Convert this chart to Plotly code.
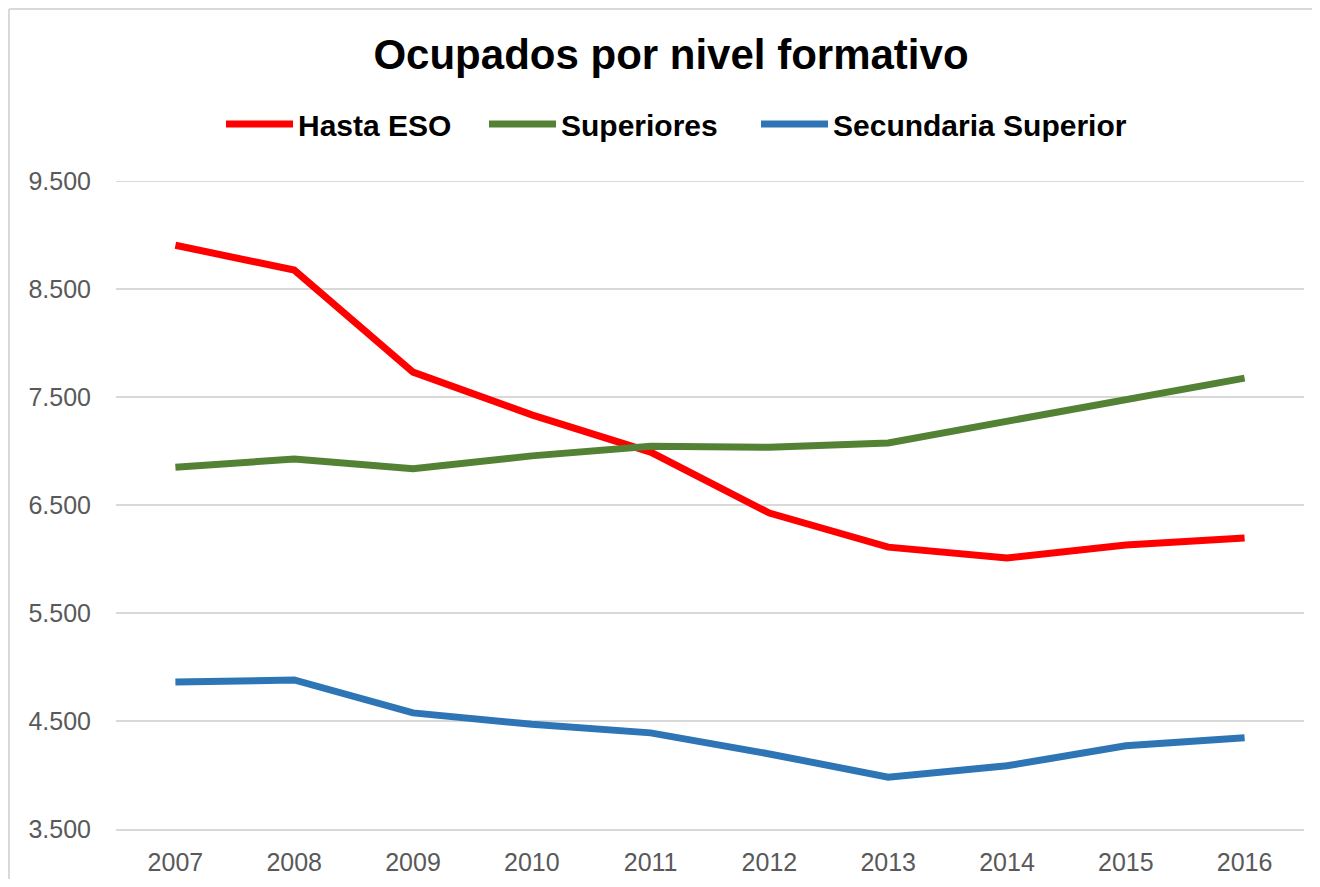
import plotly.graph_objects as go

years = ["2007", "2008", "2009", "2010", "2011", "2012", "2013", "2014", "2015", "2016"]
hasta_eso = [8905, 8675, 7730, 7335, 6990, 6425, 6110, 6010, 6130, 6195]
superiores = [6850, 6925, 6835, 6955, 7045, 7035, 7075, 7280, 7480, 7675]
secundaria_superior = [4860, 4880, 4575, 4470, 4390, 4195, 3980, 4085, 4270, 4345]

series_names = ["Hasta ESO", "Superiores", "Secundaria Superior"]
series_colors = ["#ff0000", "#548235", "#2e75b6"]

y_tickvals = [3500, 4500, 5500, 6500, 7500, 8500, 9500]
y_ticktext = ["3.500", "4.500", "5.500", "6.500", "7.500", "8.500", "9.500"]

FONT = "Liberation Sans, Arial, sans-serif"

# figure sits at an 8px offset in the page (body margin); keep it inside the viewport
W, H = 1304, 871
L, R, T, B = 108, 8, 173, 50
pw = W - L - R
ph = H - T - B

legend_ids = ["legend", "legend2", "legend3"]
legend_left_px = [213, 476, 748]

fig = go.Figure()
for name, vals, col, lid in zip(series_names, [hasta_eso, superiores, secundaria_superior], series_colors, legend_ids):
    fig.add_trace(go.Scatter(
        x=years, y=vals, name=name, mode="lines",
        line=dict(color=col, width=7, shape="linear"),
        legend=lid,
    ))

legend_common = dict(
    orientation="h", xanchor="left",
    y=1 + (T - 116) / ph, yanchor="middle",
    font=dict(family=FONT, size=30, color="black", weight="bold"),
    itemwidth=67, bgcolor="rgba(0,0,0,0)", borderwidth=0,
)

layout_legends = {}
for lid, px in zip(legend_ids, legend_left_px):
    d = dict(legend_common)
    d["x"] = (px - L) / pw
    layout_legends[lid] = d

fig.update_layout(
    width=W, height=H,
    margin=dict(l=L, r=R, t=T, b=B, autoexpand=False),
    paper_bgcolor="white", plot_bgcolor="white",
    title=dict(
        text="<b>Ocupados por nivel formativo</b>",
        x=663 / W, xref="container", xanchor="center",
        y=1 - 46 / H, yref="container", yanchor="middle",
        font=dict(family=FONT, size=42, color="black"),
    ),
    xaxis=dict(
        type="category", range=[-0.5, 9.5], automargin=False,
        showgrid=False, showline=True, linecolor="#d9d9d9", linewidth=2,
        ticks="outside", ticklen=10, tickcolor="rgba(0,0,0,0)",
        tickfont=dict(family=FONT, size=25, color="#595959"),
        fixedrange=True,
    ),
    yaxis=dict(
        range=[3500, 9500], tickvals=y_tickvals, ticktext=y_ticktext,
        automargin=False,
        showgrid=True, gridcolor="#d9d9d9", gridwidth=2,
        zeroline=False, showline=False,
        ticks="outside", ticklen=19, tickcolor="rgba(0,0,0,0)",
        tickfont=dict(family=FONT, size=25, color="#595959"),
        fixedrange=True,
    ),
    showlegend=True,
    **layout_legends,
)

# top gridline (at the axis edge, which plotly omits)
fig.add_shape(
    type="line", xref="paper", yref="y",
    x0=0, x1=1, y0=y_tickvals[-1], y1=y_tickvals[-1],
    line=dict(color="#d9d9d9", width=2), layer="below",
)

# outer chart border: top and left edges
bx0 = (1 - L) / pw
by1 = 1 + (T - 1) / ph
fig.add_shape(
    type="line", xref="paper", yref="paper",
    x0=bx0, x1=(W - L) / pw, y0=by1, y1=by1,
    line=dict(color="#d9d9d9", width=2), layer="below",
)
fig.add_shape(
    type="line", xref="paper", yref="paper",
    x0=bx0, x1=bx0, y0=-B / ph, y1=by1,
    line=dict(color="#d9d9d9", width=2), layer="below",
)

fig.write_html("out.html")
